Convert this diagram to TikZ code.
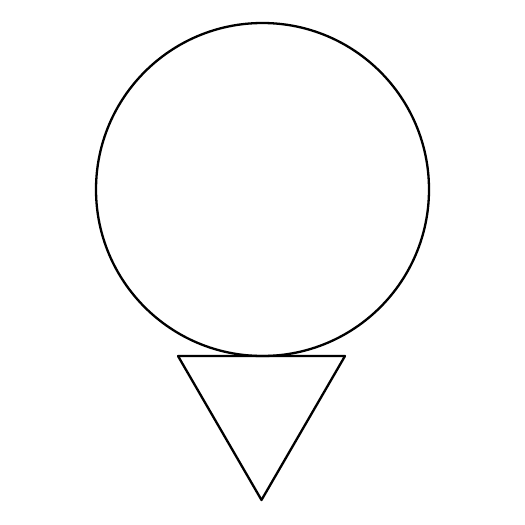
\documentclass[tikz,border=0pt]{standalone}
\begin{document}
\begin{tikzpicture}[x=1pt,y=-1pt,line width=2.3pt,shapeline/.style={draw=black,line join=round}]
\useasboundingbox (0,0) rectangle (525,525);
\fill[white] (0,0) rectangle (525,525);
\draw[shapeline] (262.5,189.5) circle [radius=166.5];
\coordinate (tl) at (178,356);
\coordinate (tr) at (345,356);
\coordinate (bt) at (261.5,500);
\draw[shapeline] (tl) -- (tr) -- (bt) -- cycle;
\end{tikzpicture}
\end{document}
